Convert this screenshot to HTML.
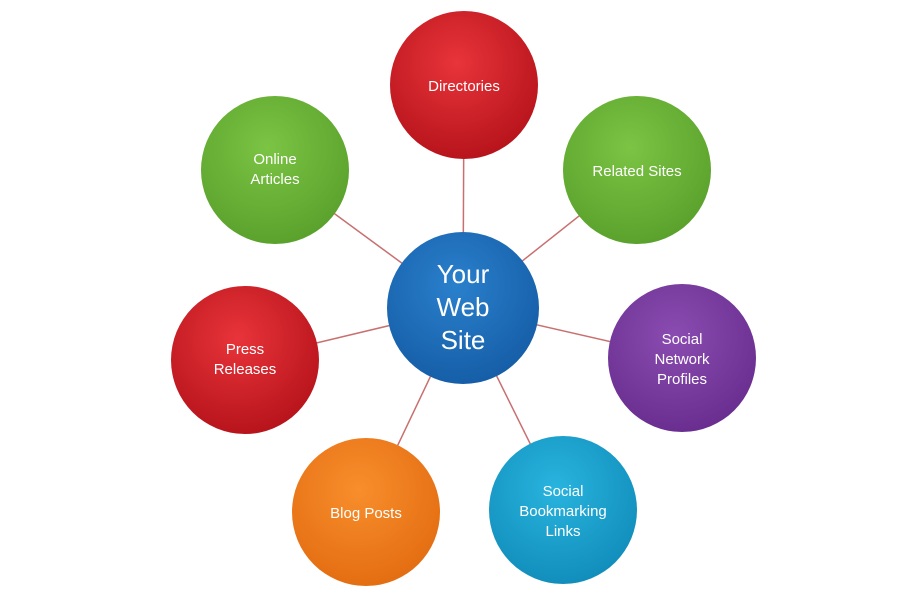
<!DOCTYPE html>
<html><head><meta charset="utf-8"><style>
html,body{margin:0;padding:0;background:#fff;}
svg{display:block;}
text{font-family:"Liberation Sans",sans-serif;fill:#fff;text-anchor:middle;}
</style></head><body>
<svg width="900" height="600" viewBox="0 0 900 600">
<defs>
<radialGradient id="red" cx="45%" cy="35%" r="65%"><stop offset="0" stop-color="#e8343a"/><stop offset="1" stop-color="#b8141c"/></radialGradient>
<radialGradient id="green" cx="45%" cy="35%" r="65%"><stop offset="0" stop-color="#7cc444"/><stop offset="1" stop-color="#5aa22c"/></radialGradient>
<radialGradient id="purple" cx="45%" cy="35%" r="65%"><stop offset="0" stop-color="#8a4cb0"/><stop offset="1" stop-color="#6a2e90"/></radialGradient>
<radialGradient id="cyan" cx="45%" cy="35%" r="65%"><stop offset="0" stop-color="#28b4de"/><stop offset="1" stop-color="#128ebc"/></radialGradient>
<radialGradient id="orange" cx="45%" cy="35%" r="65%"><stop offset="0" stop-color="#f88e2c"/><stop offset="1" stop-color="#e46e12"/></radialGradient>
<radialGradient id="blue" cx="45%" cy="35%" r="65%"><stop offset="0" stop-color="#2a80cc"/><stop offset="1" stop-color="#165ea8"/></radialGradient>
</defs>
<g stroke="#c87070" stroke-width="1.5">
<line x1="463" y1="308" x2="464" y2="85"/>
<line x1="463" y1="308" x2="637" y2="170"/>
<line x1="463" y1="308" x2="682" y2="358"/>
<line x1="463" y1="308" x2="563" y2="510"/>
<line x1="463" y1="308" x2="366" y2="512"/>
<line x1="463" y1="308" x2="245" y2="360"/>
<line x1="463" y1="308" x2="275" y2="170"/>
</g>
<circle cx="464" cy="85" r="74" fill="url(#red)"/>
<circle cx="637" cy="170" r="74" fill="url(#green)"/>
<circle cx="682" cy="358" r="74" fill="url(#purple)"/>
<circle cx="563" cy="510" r="74" fill="url(#cyan)"/>
<circle cx="366" cy="512" r="74" fill="url(#orange)"/>
<circle cx="245" cy="360" r="74" fill="url(#red)"/>
<circle cx="275" cy="170" r="74" fill="url(#green)"/>
<circle cx="463" cy="308" r="76" fill="url(#blue)"/>
<g font-size="15">
<text x="464" y="91">Directories</text>
<text x="637" y="176">Related Sites</text>
<text x="682" y="344">Social</text><text x="682" y="364">Network</text><text x="682" y="384">Profiles</text>
<text x="563" y="496">Social</text><text x="563" y="516">Bookmarking</text><text x="563" y="536">Links</text>
<text x="366" y="518">Blog Posts</text>
<text x="245" y="354">Press</text><text x="245" y="374">Releases</text>
<text x="275" y="164">Online</text><text x="275" y="184">Articles</text>
</g>
<g font-size="26">
<text x="463" y="283">Your</text><text x="463" y="316">Web</text><text x="463" y="349">Site</text>
</g>
</svg>
</body></html>
